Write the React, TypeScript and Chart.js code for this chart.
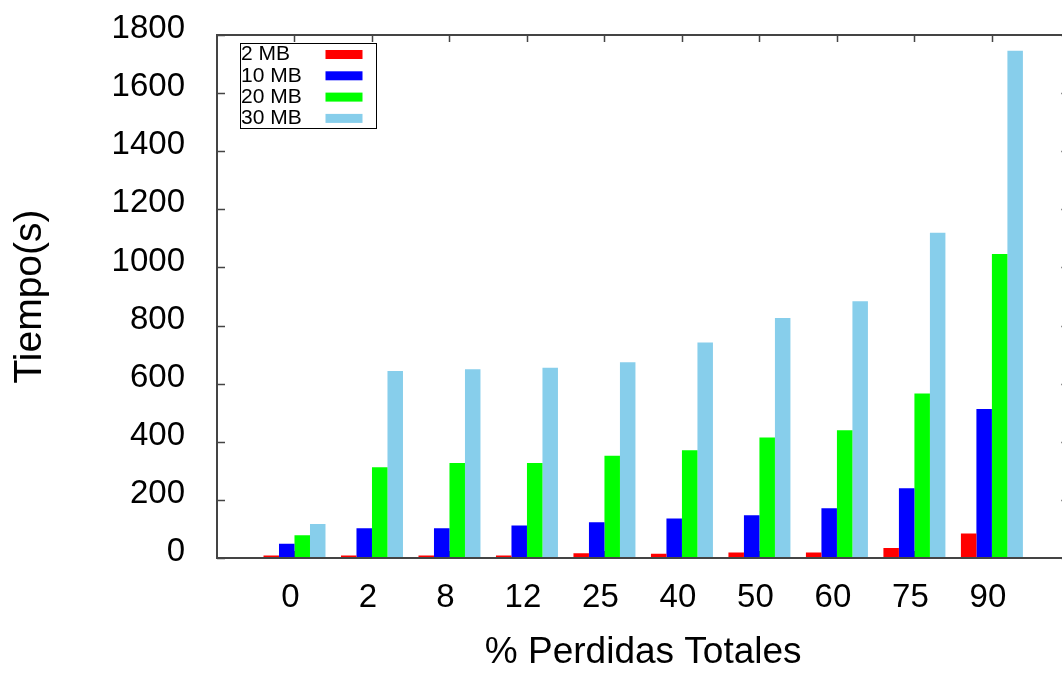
import React, { useEffect, useRef } from 'react';
import { Chart, registerables } from 'chart.js';

Chart.register(...registerables);

// ---- data ----
const categories = ['0', '2', '8', '12', '25', '40', '50', '60', '75', '90'];
const seriesLabels = ['2 MB', '10 MB', '20 MB', '30 MB'];
const mb2 = [9, 9, 9, 9, 16, 15, 19, 19, 34, 84];
const mb10 = [49, 102, 102, 112, 123, 136, 147, 171, 240, 513];
const mb20 = [78, 312, 327, 327, 352, 371, 415, 440, 566, 1046];
const mb30 = [117, 644, 650, 655, 674, 742, 826, 884, 1119, 1746];
const yTicks = [0, 200, 400, 600, 800, 1000, 1200, 1400, 1600, 1800];
const seriesColors = ['#ff0000', '#0000ff', '#00ff00', '#87ceeb'];
const xTitle = '% Perdidas Totales';
const yTitle = 'Tiempo(s)';

const FONT = "'Liberation Sans', Arial, Helvetica, sans-serif";
const CANVAS_W = 1080;
const CANVAS_H = 675;

const gnuFrame = {
  id: 'gnuFrame',
  beforeDatasetsDraw(chart: any) {
    const { ctx, chartArea } = chart;
    const ys = chart.scales.y;
    const xs = chart.scales.x;
    ctx.save();
    ctx.strokeStyle = '#444444';
    ctx.lineWidth = 1.5;
    ctx.beginPath();
    yTicks.forEach((v) => {
      const py = Math.round(ys.getPixelForValue(v)) + 0.5;
      ctx.moveTo(chartArea.left, py);
      ctx.lineTo(chartArea.left + 8, py);
      ctx.moveTo(chartArea.right, py);
      ctx.lineTo(chartArea.right - 8, py);
    });
    categories.forEach((_, i) => {
      const px = Math.round(xs.getPixelForValue(i)) + 0.5;
      ctx.moveTo(px, chartArea.top);
      ctx.lineTo(px, chartArea.top + 7);
      ctx.moveTo(px, chartArea.bottom);
      ctx.lineTo(px, chartArea.bottom - 7);
    });
    ctx.stroke();
    ctx.restore();
  },
  afterDatasetsDraw(chart: any) {
    const { ctx, chartArea } = chart;
    ctx.save();
    ctx.strokeStyle = '#444444';
    ctx.lineWidth = 2;
    ctx.strokeRect(chartArea.left, chartArea.top, chartArea.right - chartArea.left, chartArea.bottom - chartArea.top);

    // legend (gnuplot style: text left, sample on the right)
    const bx = chartArea.left + 23.5;
    const by = chartArea.top + 8.5;
    const bw = 136;
    const bh = 85;
    ctx.fillStyle = '#ffffff';
    ctx.fillRect(bx, by, bw, bh);
    ctx.strokeStyle = '#000000';
    ctx.lineWidth = 1;
    ctx.strokeRect(bx, by, bw, bh);
    ctx.font = `21px ${FONT}`;
    ctx.textBaseline = 'middle';
    ctx.textAlign = 'left';
    chart.data.datasets.forEach((ds: any, i: number) => {
      const cy = by + 11 + i * 21.3;
      ctx.fillStyle = '#000000';
      ctx.fillText(ds.label, bx + 0.5, cy);
      ctx.fillStyle = ds.backgroundColor;
      ctx.fillRect(bx + 85, cy - 4.5, 37, 9);
    });
    ctx.restore();
  },
};

export default function App() {
  const ref = useRef<HTMLCanvasElement | null>(null);

  useEffect(() => {
    if (!ref.current) return;
    Chart.defaults.font.family = FONT;
    Chart.defaults.color = '#000000';
    const series = [mb2, mb10, mb20, mb30];
    const chart = new Chart(ref.current, {
      type: 'bar',
      data: {
        datasets: series.map((vals, si) => ({
          label: seriesLabels[si],
          data: vals.map((v, i) => ({ x: i, y: v })),
          backgroundColor: seriesColors[si],
          borderWidth: 0,
          barPercentage: 1,
          categoryPercentage: 0.8,
        })),
      },
      options: {
        animation: false,
        responsive: false,
        devicePixelRatio: 1,
        layout: { padding: { left: 0, right: CANVAS_W - 1069.4, top: 35, bottom: 0 } },
        plugins: {
          legend: { display: false },
          tooltip: { enabled: false },
        },
        scales: {
          x: {
            type: 'linear',
            min: -1,
            max: 10,
            offset: false,
            grid: { display: false, offset: false, drawTicks: false },
            border: { display: false },
            ticks: {
              stepSize: 1,
              autoSkip: false,
              maxRotation: 0,
              padding: 20,
              labelOffset: -4,
              font: { size: 33, family: FONT },
              color: '#000000',
              callback: (v: any) => (categories[v as number] !== undefined ? categories[v as number] : ''),
            },
            title: {
              display: true,
              text: xTitle,
              font: { size: 37, family: FONT },
              color: '#000000',
              padding: { top: 0, bottom: 0 },
            },
            afterFit: (scale: any) => {
              scale.height = 117;
              scale.paddingLeft = 0;
              scale.paddingRight = 0;
            },
          },
          y: {
            type: 'linear',
            min: 0,
            max: 1800,
            grid: { display: false, drawTicks: false },
            border: { display: false },
            afterBuildTicks: (scale: any) => {
              scale.ticks = yTicks.map((v) => ({ value: v }));
            },
            ticks: {
              padding: 32,
              labelOffset: -6,
              font: { size: 33, family: FONT },
              color: '#000000',
              callback: (v: any) => String(v),
            },
            title: {
              display: true,
              text: yTitle,
              font: { size: 39, family: FONT },
              color: '#000000',
              padding: { top: 7, bottom: 0 },
            },
            afterFit: (scale: any) => {
              scale.width = 217;
              scale.paddingTop = 0;
              scale.paddingBottom = 0;
            },
          },
        },
      },
      plugins: [gnuFrame],
    });
    return () => chart.destroy();
  }, []);

  return (
    <div
      style={{
        position: 'fixed',
        left: 0,
        top: 0,
        width: 1062,
        height: 675,
        overflow: 'hidden',
        background: '#ffffff',
      }}
    >
      <canvas
        ref={ref}
        width={CANVAS_W}
        height={CANVAS_H}
        style={{ display: 'block', width: CANVAS_W, height: CANVAS_H }}
      />
    </div>
  );
}
